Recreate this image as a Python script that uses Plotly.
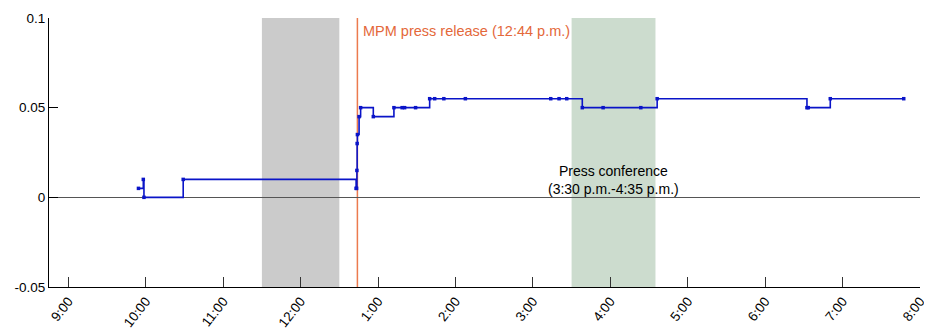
import plotly.graph_objects as go

# Observation times (clock time, 24h) and values
times = ["9:54:20", "9:58:05", "9:58:35", "10:29:00", "12:43:00", "12:43:23",
         "12:43:37", "12:43:48", "12:44:00", "12:45:18", "12:46:30", "12:56:20",
         "13:12:18", "13:18:40", "13:20:35", "13:29:06", "13:40:00", "13:43:52",
         "13:51:00", "14:07:40", "15:13:50", "15:20:17", "15:26:13", "15:38:17",
         "15:54:25", "16:23:38", "16:36:18", "18:32:24", "18:33:25", "18:50:28",
         "19:47:24"]
values = [0.005, 0.010, 0.000, 0.010, 0.005, 0.005,
          0.015, 0.030, 0.035, 0.045, 0.050, 0.045,
          0.050, 0.050, 0.050, 0.050, 0.055, 0.055,
          0.055, 0.055, 0.055, 0.055, 0.055, 0.050,
          0.050, 0.050, 0.055, 0.050, 0.050, 0.055,
          0.055]

tick_hours = [9, 10, 11, 12, 13, 14, 15, 16, 17, 18, 19, 20]
tick_labels = ["9:00", "10:00", "11:00", "12:00", "1:00", "2:00", "3:00",
               "4:00", "5:00", "6:00", "7:00", "8:00"]

y_ticks = [-0.05, 0, 0.05, 0.1]
y_labels = ["-0.05", "0", "0.05", "0.1"]

lunch_break = (11.5, 12.5)
press_conf = (15.5, 16 + 35 / 60)
release_time = 12 + 44 / 60


def to_hours(s):
    parts = [int(p) for p in s.split(":")]
    while len(parts) < 3:
        parts.append(0)
    return parts[0] + parts[1] / 60 + parts[2] / 3600


x = [to_hours(t) for t in times]

fig = go.Figure()
fig.add_trace(go.Scatter(
    x=x, y=values, mode="lines+markers",
    line=dict(shape="hv", color="#0a14c8", width=1.6),
    marker=dict(symbol="square", size=3.5, color="#0a14c8"),
    showlegend=False, hoverinfo="skip"))

fig.add_shape(type="rect", xref="x", yref="paper", x0=lunch_break[0], x1=lunch_break[1],
              y0=0, y1=1, fillcolor="#cbcbcb", line_width=0, layer="below")
fig.add_shape(type="rect", xref="x", yref="paper", x0=press_conf[0], x1=press_conf[1],
              y0=0, y1=1, fillcolor="#ccdcce", line_width=0, layer="below")
fig.add_shape(type="line", xref="x", yref="paper", x0=release_time, x1=release_time,
              y0=0, y1=1, line=dict(color="#ec7a4e", width=1.5), layer="between")

fig.add_annotation(x=release_time, y=0.1, xref="x", yref="y",
                   text="MPM press release (12:44 p.m.)", showarrow=False,
                   xanchor="left", yanchor="top", xshift=4, yshift=-3,
                   font=dict(color="#e4683a", size=14.5))
fig.add_annotation(x=(press_conf[0] + press_conf[1]) / 2, y=0.0095, xref="x", yref="y",
                   text="Press conference<br>(3:30 p.m.-4:35 p.m.)", showarrow=False,
                   xanchor="center", yanchor="middle",
                   font=dict(color="black", size=14))

# page body has an 8px default margin, so the figure is sized to fit inside it
fig.update_layout(
    width=924, height=321,
    margin=dict(l=41, r=12, t=10, b=42),
    plot_bgcolor="white", paper_bgcolor="white",
    font=dict(family="Liberation Sans, Arial, sans-serif", size=13, color="black"),
    xaxis=dict(range=[8.75, 20], tickvals=tick_hours, ticktext=tick_labels,
               tickangle=-52, ticks="inside", ticklen=10, tickcolor="#333",
               showline=True, linecolor="black", linewidth=1, automargin=False,
               showgrid=False, zeroline=False, tickfont=dict(size=13.5)),
    yaxis=dict(range=[-0.05, 0.1], tickvals=y_ticks, ticktext=y_labels,
               ticks="inside", ticklen=9, tickcolor="black", automargin=False,
               showline=True, linecolor="black", linewidth=1,
               showgrid=False, zeroline=True, zerolinecolor="#555",
               zerolinewidth=1.3, tickfont=dict(size=13.5)),
)

fig.write_html("out.html")
